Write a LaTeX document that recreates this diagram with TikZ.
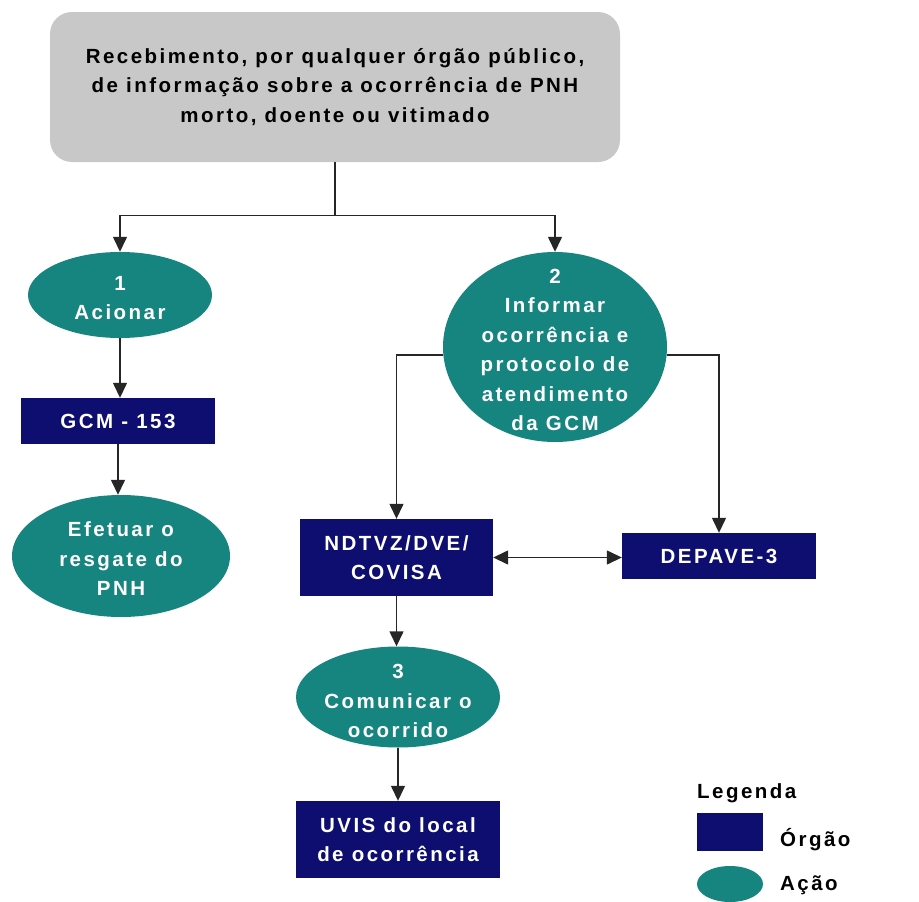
\documentclass[tikz,border=0pt]{standalone}
\usepackage{fontspec}
\setmainfont{Liberation Sans}[LetterSpace=12]
\usetikzlibrary{arrows.meta,shapes.geometric}
\definecolor{azulorgao}{RGB}{14,14,112}
\definecolor{verdeacao}{RGB}{22,132,127}
\definecolor{cinzatopo}{RGB}{200,200,200}
\newcommand{\fonteflux}{\bfseries\fontsize{20.5}{29.5}\selectfont}
\tikzset{
  orgao/.style     = {rectangle,fill=azulorgao,text=white,font=\fonteflux,align=center,inner sep=0pt},
  acao/.style      = {ellipse,fill=verdeacao,inner sep=0pt},
  rotulo/.style    = {text=white,font=\fonteflux,align=center,inner sep=0pt},
  inicio/.style    = {rectangle,rounded corners=22pt,fill=cinzatopo,font=\fonteflux,align=center},
  legtxt/.style    = {anchor=west,font=\fonteflux,inner sep=0pt},
  seta/.style      = {-{Triangle[length=15pt,width=14pt]},line width=1.4pt,black!85},
  duplaseta/.style = {{Triangle[length=15pt,width=14pt]}-{Triangle[length=15pt,width=14pt]},line width=1.4pt,black!85}
}

\begin{document}
\begin{tikzpicture}[x=1pt,y=-1pt]
  \fill[white] (0,0) rectangle (919,902);
  \useasboundingbox (0,0) rectangle (919,902);

  \node[inicio,minimum width=570pt,minimum height=150pt] (receb) at (335,87)
    {Recebimento, por qualquer órgão público,\\de informação sobre a ocorrência de PNH\\morto, doente ou vitimado};

  \node[acao,minimum width=184pt,minimum height=86pt] (acao1) at (120,295) {};
  \node[rotulo] (t1) at (120,298) {1\\Acionar};
  \node[orgao,minimum width=194pt,minimum height=46pt] (gcm) at (118,421) {GCM - 153};
  \node[acao,minimum width=218pt,minimum height=122pt] (resgate) at (121,556) {};
  \node[rotulo] (tresg) at (121,559) {Efetuar o\\resgate do\\PNH};

  \node[acao,minimum width=224pt,minimum height=190pt] (acao2) at (555,347) {};
  \node[rotulo] (t2) at (555,350) {2\\Informar\\ocorrência e\\protocolo de\\atendimento\\da GCM};

  \node[orgao,minimum width=193pt,minimum height=77pt] (ndtvz) at (396.5,557.5) {NDTVZ/DVE/\\COVISA};
  \node[orgao,minimum width=194pt,minimum height=46pt] (depave) at (719,556) {DEPAVE-3};

  \node[acao,minimum width=204pt,minimum height=101pt] (acao3) at (398,697) {};
  \node[rotulo] (t3) at (398,701) {3\\Comunicar o\\ocorrido};
  \node[orgao,minimum width=204pt,minimum height=77pt] (uvis) at (398,839.5) {UVIS do local\\de ocorrência};

  \node[legtxt] (legenda) at (697,793) {Legenda};
  \node[rectangle,fill=azulorgao,minimum width=66pt,minimum height=38pt,inner sep=0pt] (legorgao) at (730,832) {};
  \node[legtxt] (txtorgao) at (780,840) {Órgão};
  \node[ellipse,fill=verdeacao,minimum width=66pt,minimum height=36pt,inner sep=0pt] (legacao) at (730,884) {};
  \node[legtxt] (txtacao) at (780,885) {Ação};

  \draw[seta] (receb.south) -- ++(0,53) -| (acao1.north);
  \draw[seta] (receb.south) -- ++(0,53) -| (acao2.north);
  \draw[seta] (acao1.south) -- (acao1.south |- gcm.north);
  \draw[seta] (gcm.south) -- (gcm.south |- resgate.north);
  \draw[seta] (acao2.184) -| (ndtvz.north);
  \draw[seta] (acao2.-4) -| (depave.north);
  \draw[duplaseta] (ndtvz.east) -- (ndtvz.east -| depave.west);
  \draw[seta] (ndtvz.south) -- (ndtvz.south |- acao3.north);
  \draw[seta] (acao3.south) -- (acao3.south |- uvis.north);
\end{tikzpicture}
\end{document}
